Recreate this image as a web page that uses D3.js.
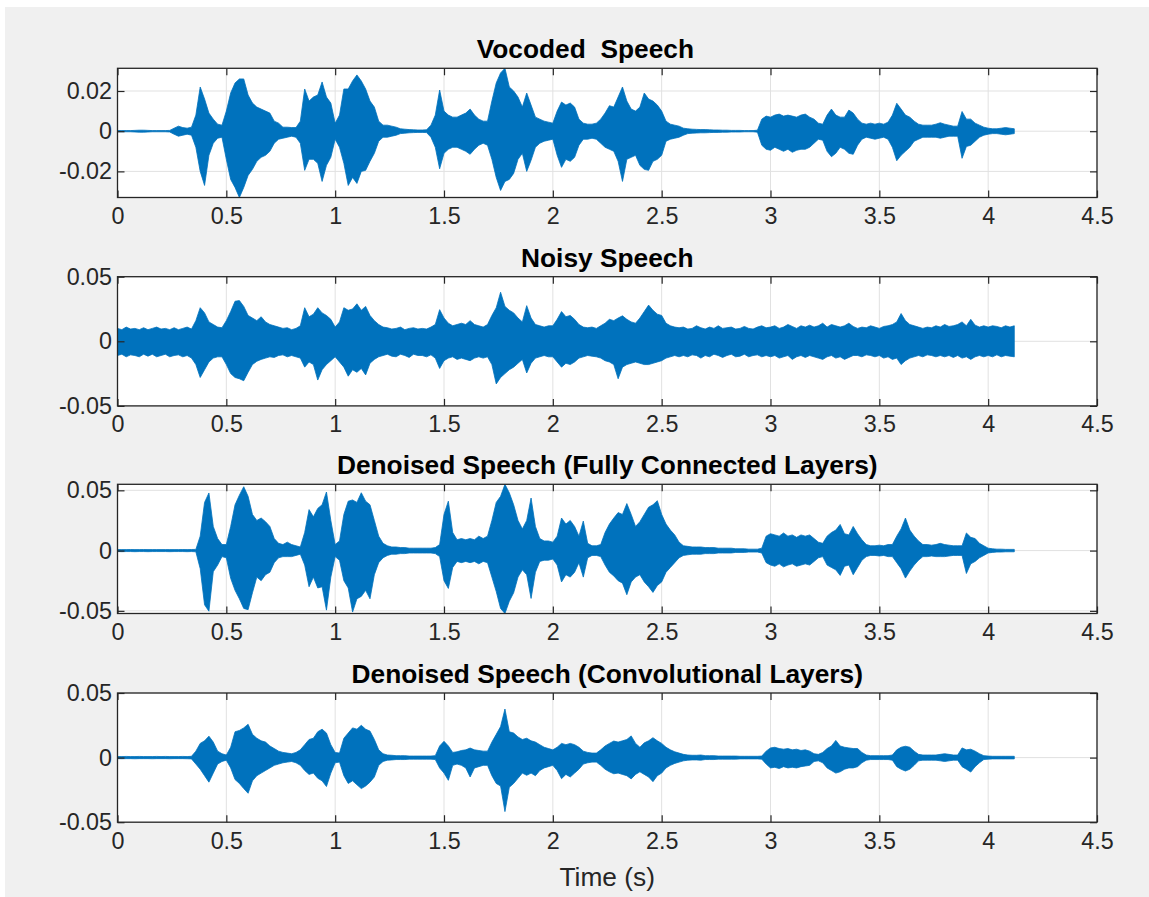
<!DOCTYPE html>
<html>
<head>
<meta charset="utf-8">
<script src="https://cdn.jsdelivr.net/npm/d3@7"></script>
<style>
  html, body { margin: 0; padding: 0; background: #ffffff; }
  svg { display: block; }
</style>
</head>
<body>
<script>
// ---------------------------------------------------------------
// Waveform envelopes: per 20 ms bin, the largest and smallest
// sample value, in units of 1e-3. Bin i is centred at i * BIN s.
// ---------------------------------------------------------------
const BIN = 0.02;
const AMP_UNIT = 1e-3;

const vocodedMax = [
  0.3,0.3,0.3,0.3,0.4,0.5,0.5,0.4,0.3,0.3,
  0.3,0.3,0.4,1.5,2.5,1.8,1.5,2,8,22,
  16,9,6,3.5,3,10,19,24,26,26,
  18,14,12,11,10,9,5,4,2,2,
  1.8,1.8,5,21,15,17,18,24.5,17,14,
  4,8,21,21,25,28,25,21,15,12,
  5,3,3,2.5,2,1.2,1,0.8,0.7,0.6,
  0.6,0.7,3,8,20.5,10,8,7,7,8,
  9,11,8,6,5,5,15,24,29,31.3,
  22,20,17,12,19,13,7,6,5,4.5,
  4,10,14.5,13,14,12,6,4,3.5,3.5,
  4,6,9,12.7,12,17,22,15,11,10,
  12,19,16,15,13,10,5,3.5,3,2.5,
  1.5,1.2,1,0.9,0.8,0.8,0.7,0.6,0.6,0.5,
  0.5,0.4,0.4,0.4,0.3,0.3,0.3,0.5,6,7.5,
  7,8,8.5,7.5,8,7.5,7,8,8.5,7,
  6,4,3.5,8,11,8,7,7,10.5,9,
  6,4,3.5,4,3.5,4,3.5,4.5,8,13.9,
  11,8,7,5,3.5,3,3,3,3.5,4.2,
  3.5,3,2.5,2.5,9.8,6,6,4,3,2,
  1.5,1.2,1.2,1.5,1.8,1.5,1.2
];
const vocodedMin = [
  -0.3,-0.3,-0.3,-0.3,-0.4,-0.5,-0.5,-0.4,-0.3,-0.3,
  -0.3,-0.3,-0.4,-1.5,-2.5,-2,-1.5,-2,-8,-20,
  -27,-12,-6,-3.5,-3,-14,-24,-28,-33,-28,
  -22,-19,-15,-13,-12,-10,-6,-4,-3.5,-3,
  -2.5,-3,-6,-19.5,-14,-14,-16,-25,-17,-13,
  -4,-8,-16,-27,-23,-26,-20,-19.5,-15,-11,
  -5,-3,-3,-2.5,-2,-1.2,-1,-0.8,-0.7,-0.6,
  -0.6,-0.7,-3,-8,-18.7,-11,-9,-8,-8,-9,
  -10,-11.5,-9,-7,-6,-7,-14,-23,-29.5,-25,
  -24,-21,-14,-11,-20,-14.5,-8,-6,-5,-4.5,
  -4,-12,-18,-14,-15,-13,-7,-4,-4,-3.5,
  -4,-6,-8,-9,-10,-15,-25,-14,-13,-12,
  -17,-19,-19.5,-15,-14,-12,-5,-4,-3.5,-3,
  -2,-1.2,-1,-0.9,-0.8,-0.8,-0.7,-0.6,-0.6,-0.5,
  -0.5,-0.4,-0.4,-0.4,-0.3,-0.3,-0.3,-0.5,-7,-9,
  -9.5,-8,-9,-10,-9,-10.5,-9.5,-9,-9,-8,
  -6,-4,-4.5,-10,-12.7,-11,-8,-9,-11,-11.5,
  -7,-4,-3,-3.5,-4,-3.5,-3,-4,-8,-14.7,
  -12,-10,-8,-5,-4,-3,-3,-3,-3,-3.5,
  -3,-2.5,-2.5,-2.5,-13.5,-7.6,-7,-5,-3,-2,
  -1.5,-1.2,-1.2,-1.5,-1.8,-1.5,-1.2
];

const noisyMax = [
  10,9,11,9.5,10,9,10.5,9,10,11,
  9.5,10,9,10.5,9,10,11,9.5,16,26,
  22,15,13,11,10.5,16,23,31,31.5,27,
  20,18,16,19,15,13,12,11,10,10.5,
  9,10,12,26,19,21,26,22,20,17,
  11,15,26,24,25,29,24,27,20,16,
  13,11,10.5,9.5,10,11,9,10,10.5,9.5,
  10,9.5,11,13,24.5,18,14,12,13,14,
  13,16,13,12,11,13,20,26,38,27,
  24,22,18,15,27.6,18,13,12,11,12,
  12,17,23,19,20,17,13,11,10.5,11,
  10,12,14,17,16,18,19.7,17,15,14,
  18,23,28,24,21,20,14,12,11,10.5,
  11,9.5,10,12,10.5,9.5,11,10,12,10,
  10.5,11,9.5,10,11.5,10,9.5,11,12,10.5,
  11,12,10,11,13,11.5,10,12,11,12.5,
  11,12,14,11,13,12,11,12,14,11.5,
  10,11,10.5,12,11,10,11.5,12,13,15,
  21.5,16,13,12,11,10,11,10.5,12,11,
  13,11.5,12,13,15,12,17,12.5,11,12,
  11,12,11.5,10.5,12,11,12
];
const noisyMin = [
  -11,-10,-12,-10.5,-11,-12,-10,-11.5,-10,-12,
  -11,-10,-12,-11,-10.5,-12,-11,-13,-18,-28,
  -22,-16,-13,-12,-12,-18,-25,-28,-29,-30.5,
  -24,-18,-15.5,-14,-13,-12,-12.5,-11,-10.5,-12,
  -11,-12,-13,-20,-16,-18,-30,-22,-18,-15,
  -12,-16,-20,-27,-22,-24,-21,-26,-17,-14,
  -12,-11,-10,-11.5,-12,-10,-11,-12.5,-10,-11,
  -11,-12,-10.5,-13,-21,-15,-13,-12,-14,-13,
  -14,-15,-13,-12,-13,-12,-18,-33,-28,-25,
  -22,-20,-17,-14,-24.5,-17,-13,-12,-11,-12,
  -12,-16,-20,-17,-18,-16,-13,-12,-11,-11.5,
  -12,-13,-15,-16,-18,-29,-20,-18,-17,-16,
  -17,-18,-18,-17,-16,-15,-13,-12,-11,-12,
  -11,-12,-10.5,-11,-13,-11,-12,-10,-11,-12.5,
  -11,-10,-12,-11.5,-10,-12,-11,-10.5,-12,-11,
  -12,-11,-13,-12,-11,-14,-12,-11,-12.5,-11,
  -12,-13,-14,-12,-11,-13,-12,-14,-12.5,-11,
  -11,-12,-10.5,-11,-12,-11,-13,-12,-14,-13,
  -18,-15,-13,-12,-11,-12,-10.5,-11,-12,-11,
  -12,-11,-12.5,-11,-13,-12,-14,-12,-11,-12,
  -11,-12,-10.5,-12,-11,-11.5,-12
];

const denseMax = [
  0.8,0.8,0.8,0.9,0.8,0.8,0.9,0.8,0.8,0.8,
  0.8,0.8,0.8,0.8,0.8,0.9,0.8,0.9,1,12,
  40,47.8,20,10,5,5,20,38,46,53,
  45,30,25,27,24,20,10,6,5,7,
  5,4,3,15,34,28,35,38,48.6,25,
  5,8,30,41,42,40,48,41,38,25,
  12,6,4,3,3,2.5,2.5,2,2,2,
  2,2,2,2.5,5,30,41,15,9,10,
  9,10,9,12,10,12,25,40,45,55,
  48,38,25,18,25,43.6,20,10,8,8,
  7,12,27,22,25,20,12,24.5,6,4,
  4,5,15,22,27,31.5,30,39,30,20,
  24,30,36,38,41.4,30,22,17,13,7,
  4,3.5,3,3,3,2.5,2.5,2.5,2,2,
  2,2,1.5,1.5,1.5,1.2,1.2,1.2,2,12,
  14,13,12,14.6,12,13,11,13,12,13,
  10,7,6,12,15,17,21.7,14,13,20,
  14,9,5,4,4,4.5,4,5,5,12,
  18,27,17,12,8,5,5,4.5,5,6,
  5,4.5,4,4,4,14.6,11,10,6,4,
  2,1.5,1.2,1.2,1,1,1
];
const denseMin = [
  -0.8,-0.9,-0.8,-0.8,-0.9,-0.8,-0.8,-0.9,-0.8,-0.8,
  -0.8,-0.8,-0.9,-0.8,-0.8,-0.8,-0.9,-0.8,-1,-15,
  -45,-50.3,-17.5,-12,-5,-6,-23,-33,-40,-48,
  -49,-35,-22,-25,-20,-18,-10,-6,-5,-5,
  -5,-4,-3,-12,-30,-22,-31,-30,-49.4,-22,
  -5,-8,-25,-31,-51,-40,-38,-33,-40,-20,
  -10,-6,-4,-3,-3,-2.5,-2.5,-2,-2,-2,
  -2,-2,-2,-2.5,-5,-25,-31.4,-14,-9,-10,
  -9,-10,-9,-11,-9,-10,-22,-34,-48,-52.2,
  -42,-35,-22,-16,-20,-39.7,-18,-9,-8,-8,
  -7,-12,-26,-20,-22,-18,-10,-22,-6,-4,
  -4,-5,-12,-18,-21,-25,-27,-36.6,-26,-22,
  -20,-26,-30,-34.7,-29,-26,-18,-14,-10,-6,
  -4,-3.5,-3,-3,-3,-2.5,-2.5,-2.5,-2,-2,
  -2,-2,-1.5,-1.5,-1.5,-1.2,-1.2,-1.2,-2,-10,
  -12,-13,-11,-13.5,-12,-11,-13,-12,-11,-12,
  -9,-6,-5,-12,-14,-16,-20.6,-13,-12,-20,
  -14,-8,-5,-4,-4,-4.5,-4,-5,-5,-10,
  -15,-22.8,-17,-12,-8,-5,-5,-4.5,-5,-5,
  -5,-4.5,-4,-4,-4,-19,-11,-9,-6,-4,
  -2,-1.5,-1.2,-1.2,-1,-1,-1
];

const convMax = [
  0.8,0.8,0.9,0.8,0.8,0.9,0.8,0.8,0.8,0.9,
  0.8,0.9,0.8,0.8,0.8,0.9,0.8,1,5,11,
  13,16.6,12,5,3,2,8,20,21,23,
  25.8,18,15,13,12,9,7,5,4,3.5,
  3,4,6,10,14,15,20,22,19,10,
  4,3.5,15,19,23,22,25,22,20.5,14,
  6,3,2,1.8,1.5,1.5,1.5,1.2,1.2,1.2,
  1.2,1.2,1.2,1.5,9,12.6,9,4,4.5,5.5,
  6,7.4,6,5.5,5,5,12,18,24,37.6,
  20,19,16,14,15,13,12,10,8,7,
  6,8,11,10,11,10,8,5,4,3.5,
  3.5,6,9,11,12.8,12,13,14,16.8,11,
  8,11.4,13,15.4,13,11,8,6,4.5,3.5,
  2.5,2,1.8,1.8,2,1.5,1.5,1.5,1.2,1.2,
  1.2,1.2,1.2,1,1,1,1,1,1.2,5,
  7.5,8,7,6.5,7,6,6.5,5.5,6,5,
  3,2.5,4,7,9,13.3,9,8,7.5,7,
  7,4,2,1.5,1.5,1.5,1.5,1.5,2,6,
  8,8.8,8,5,2.5,2,2,2,2,2.5,
  3,2.5,2,2,7.5,6,6.5,5,3,1.5,
  1.2,1,1,1,1,1,1
];
const convMin = [
  -0.8,-0.9,-0.8,-0.8,-0.9,-0.8,-0.8,-0.8,-0.9,-0.8,
  -0.8,-0.8,-0.9,-0.8,-0.8,-0.8,-0.9,-1,-5,-9,
  -14,-19,-12,-5,-3,-2,-8,-17,-20,-24,
  -27.6,-18,-14,-12,-10,-8,-6,-5,-4,-3.5,
  -3,-4,-6,-10,-13,-12,-16,-18,-22.4,-12,
  -4,-3.5,-14,-20,-18,-21,-24,-22,-19,-15,
  -6,-3,-2,-1.8,-1.5,-1.5,-1.5,-1.2,-1.2,-1.2,
  -1.2,-1.2,-1.2,-1.5,-8,-12,-17.6,-6,-5,-6,
  -8,-15,-8,-7,-6,-6,-14,-20,-22,-41.8,
  -23,-20,-16,-12,-13.7,-12,-14,-10,-8,-7,
  -6,-10,-16.3,-13,-15,-12,-9,-5,-4,-3.5,
  -3.5,-6,-9,-11,-12.5,-12,-13,-14,-16.5,-13,
  -11,-13,-15,-18.6,-14,-12,-8,-6,-4.5,-3.5,
  -2.5,-2,-1.8,-1.8,-2,-1.5,-1.5,-1.5,-1.2,-1.2,
  -1.2,-1.2,-1.2,-1,-1,-1,-1,-1,-1.2,-5,
  -8,-7.5,-8.5,-7,-8,-7.5,-8,-7,-6.5,-6,
  -3,-2.5,-4,-8,-10,-12,-11,-9,-8,-8,
  -7,-4,-2,-1.5,-1.5,-1.5,-1.5,-1.5,-2,-7,
  -9,-10.4,-9,-6,-2.5,-2,-2,-2,-2,-2.5,
  -3,-2.5,-2,-2,-7,-9,-11.2,-7,-4,-1.5,
  -1.2,-1,-1,-1,-1,-1,-1
];

// Axis ticks and text
const timeTicks = [0, 0.5, 1, 1.5, 2, 2.5, 3, 3.5, 4, 4.5];
const timeTickLabels = ["0", "0.5", "1", "1.5", "2", "2.5", "3", "3.5", "4", "4.5"];
const timeDomain = [0, 4.5];
const xAxisLabel = "Time (s)";

// the first title carries trailing blanks, which shift its centring
const panelTitles = [
  "Vocoded  Speech      ",
  "Noisy Speech",
  "Denoised Speech (Fully Connected Layers)",
  "Denoised Speech (Convolutional Layers)"
];
const ampTicksSmall = [-0.02, 0, 0.02];
const ampTickLabelsSmall = ["-0.02", "0", "0.02"];
const ampTicksLarge = [-0.05, 0, 0.05];
const ampTickLabelsLarge = ["-0.05", "0", "0.05"];
const fixedLimits = [-0.05, 0.05];

// null limits mean "tight": fitted to the signal's own extremes
const panels = [
  { title: panelTitles[0], hi: vocodedMax, lo: vocodedMin, limits: null,
    ticks: ampTicksSmall, labels: ampTickLabelsSmall },
  { title: panelTitles[1], hi: noisyMax, lo: noisyMin, limits: fixedLimits,
    ticks: ampTicksLarge, labels: ampTickLabelsLarge },
  { title: panelTitles[2], hi: denseMax, lo: denseMin, limits: null,
    ticks: ampTicksLarge, labels: ampTickLabelsLarge },
  { title: panelTitles[3], hi: convMax, lo: convMin, limits: fixedLimits,
    ticks: ampTicksLarge, labels: ampTickLabelsLarge }
];

// ---------------------------------------------------------------
// Layout
// ---------------------------------------------------------------
const W = 1149, H = 897;
const PLOT_LEFT = 117.5, PLOT_RIGHT = 1097;
const PANEL_TOPS = [68.3, 276.7, 484.3, 693.0];
const PANEL_H = 129.2;
const TICK_LEN = 7;
const LINE_BLUE = "#0072BD";
const INK = "#262626";
const GRID = "#e1e1e1";
const FONT = "'Liberation Sans', Arial, Helvetica, sans-serif";
const TICK_FONT = 23.3;
const TITLE_FONT = 26.3;

const svg = d3.select("body").append("svg")
  .attr("width", W).attr("height", H)
  .attr("font-family", FONT);

svg.append("rect").attr("width", W).attr("height", H).attr("fill", "#ffffff");
svg.append("rect").attr("x", 5).attr("y", 7)
  .attr("width", W - 5).attr("height", H - 7).attr("fill", "#f0f0f0");

const x = d3.scaleLinear().domain(timeDomain).range([PLOT_LEFT, PLOT_RIGHT]);
const midX = (PLOT_LEFT + PLOT_RIGHT) / 2;

panels.forEach((p, k) => {
  const top = PANEL_TOPS[k];
  const bottom = top + PANEL_H;
  const limits = p.limits || [d3.min(p.lo) * AMP_UNIT, d3.max(p.hi) * AMP_UNIT];
  const y = d3.scaleLinear().domain(limits).range([bottom, top]);

  const g = svg.append("g").attr("class", "panel");

  // plot background
  g.append("rect")
    .attr("x", PLOT_LEFT).attr("y", top)
    .attr("width", PLOT_RIGHT - PLOT_LEFT).attr("height", PANEL_H)
    .attr("fill", "#ffffff");

  // grid
  g.append("g").selectAll("line").data(timeTicks).join("line")
    .attr("x1", d => x(d)).attr("x2", d => x(d))
    .attr("y1", top).attr("y2", bottom)
    .attr("stroke", GRID).attr("stroke-width", 1);
  g.append("g").selectAll("line").data(p.ticks).join("line")
    .attr("x1", PLOT_LEFT).attr("x2", PLOT_RIGHT)
    .attr("y1", d => y(d)).attr("y2", d => y(d))
    .attr("stroke", GRID).attr("stroke-width", 1);

  // waveform envelope
  const clipId = "clip" + k;
  svg.append("clipPath").attr("id", clipId).append("rect")
    .attr("x", PLOT_LEFT).attr("y", top)
    .attr("width", PLOT_RIGHT - PLOT_LEFT).attr("height", PANEL_H);

  const area = d3.area()
    .x((d, i) => x(i * BIN))
    .y0((d, i) => y(p.lo[i] * AMP_UNIT))
    .y1((d, i) => y(p.hi[i] * AMP_UNIT))
    .curve(d3.curveLinear);

  g.append("path")
    .datum(p.hi)
    .attr("d", area)
    .attr("fill", LINE_BLUE)
    .attr("stroke", LINE_BLUE)
    .attr("stroke-width", 0.8)
    .attr("stroke-linejoin", "miter")
    .attr("clip-path", `url(#${clipId})`);

  // axes (ticks point inward)
  const styleAxis = sel => {
    sel.select(".domain").remove();
    sel.attr("color", INK)
      .attr("font-family", FONT)
      .attr("font-size", TICK_FONT);
    sel.selectAll(".tick line").attr("stroke-width", 1.2);
    sel.selectAll(".tick text").attr("fill", INK);
  };

  g.append("g")
    .attr("transform", `translate(0,${bottom})`)
    .call(d3.axisBottom(x).tickValues(timeTicks)
      .tickFormat((d, i) => timeTickLabels[i])
      .tickSizeInner(-TICK_LEN).tickSizeOuter(0).tickPadding(10))
    .call(styleAxis);

  g.append("g")
    .attr("transform", `translate(0,${top})`)
    .call(d3.axisTop(x).tickValues(timeTicks).tickFormat("")
      .tickSizeInner(-TICK_LEN).tickSizeOuter(0))
    .call(styleAxis);

  g.append("g")
    .attr("transform", `translate(${PLOT_LEFT},0)`)
    .call(d3.axisLeft(y).tickValues(p.ticks)
      .tickFormat((d, i) => p.labels[i])
      .tickSizeInner(-TICK_LEN).tickSizeOuter(0).tickPadding(5.5))
    .call(styleAxis);

  g.append("g")
    .attr("transform", `translate(${PLOT_RIGHT},0)`)
    .call(d3.axisRight(y).tickValues(p.ticks).tickFormat("")
      .tickSizeInner(-TICK_LEN).tickSizeOuter(0))
    .call(styleAxis);

  // axes box
  g.append("rect")
    .attr("x", PLOT_LEFT).attr("y", top)
    .attr("width", PLOT_RIGHT - PLOT_LEFT).attr("height", PANEL_H)
    .attr("fill", "none").attr("stroke", INK).attr("stroke-width", 1.3);

  // title
  g.append("text")
    .attr("x", midX).attr("y", top - 10)
    .attr("text-anchor", "middle")
    .attr("font-size", TITLE_FONT)
    .attr("font-weight", "bold")
    .attr("fill", "#000000")
    .attr("xml:space", "preserve")
    .style("white-space", "pre")
    .text(p.title);
});

// x-axis label under the last panel
svg.append("text")
  .attr("x", midX)
  .attr("y", PANEL_TOPS[3] + PANEL_H + 64)
  .attr("text-anchor", "middle")
  .attr("font-size", TITLE_FONT)
  .attr("fill", INK)
  .text(xAxisLabel);
</script>
</body>
</html>
